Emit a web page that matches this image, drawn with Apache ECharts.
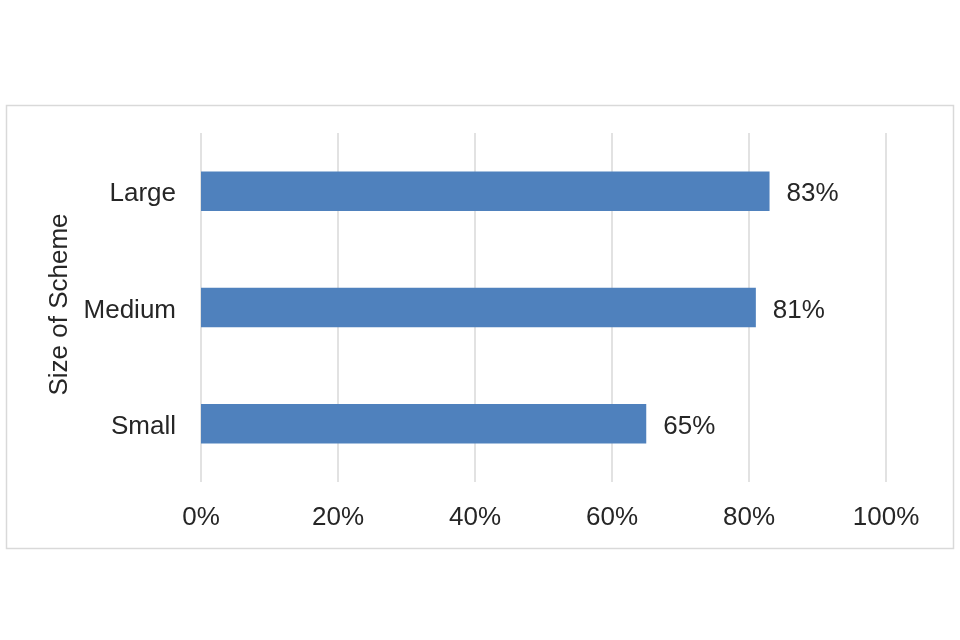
<!DOCTYPE html>
<html>
<head>
<meta charset="utf-8">
<script src="https://cdn.jsdelivr.net/npm/echarts@6/dist/echarts.min.js"></script>
<style>html,body{margin:0;padding:0;background:#fff}#c{width:960px;height:640px}</style>
</head>
<body>
<div id="c"></div>
<script>
const categories = ['Large', 'Medium', 'Small'];
const values = [83, 81, 65];
const xTicks = [0, 20, 40, 60, 80, 100];
const axisTitle = 'Size of Scheme';

const chart = echarts.init(document.getElementById('c'), null, {renderer: 'canvas'});
const font = 'Liberation Sans, Arial, sans-serif';
const txt = '#262626';
chart.setOption({
  animation: false,
  backgroundColor: '#ffffff',
  graphic: [{
    type: 'rect', left: 4, top: 103, z: -1,
    shape: {width: 947, height: 443},
    style: {fill: 'none', stroke: '#d9d9d9', lineWidth: 1.5}
  }],
  grid: {left: 201, right: 74, top: 133, bottom: 158},
  xAxis: {
    type: 'value', min: xTicks[0], max: xTicks[xTicks.length - 1], interval: 20,
    axisLine: {show: false}, axisTick: {show: false},
    splitLine: {show: true, lineStyle: {color: '#d9d9d9', width: 1.5}},
    axisLabel: {formatter: '{value}%', color: txt, fontSize: 26, fontFamily: font, margin: 23}
  },
  yAxis: {
    type: 'category', data: categories, inverse: true,
    axisLine: {show: false}, axisTick: {show: false},
    axisLabel: {color: txt, fontSize: 26, fontFamily: font, margin: 25,
      formatter: function (v) { return '{a|' + v + '}'; },
      rich: {a: {color: txt, fontSize: 26, fontFamily: font, padding: [6, 0, 0, 0]}}},
    name: axisTitle, nameLocation: 'middle', nameGap: 128, nameRotate: 90,
    nameTextStyle: {color: txt, fontSize: 26, fontFamily: font, padding: [0, 0, 0, 6]}
  },
  series: [{
    type: 'bar', data: values, barWidth: '34%',
    itemStyle: {color: '#4F81BD'},
    label: {show: true, position: 'right', distance: 17, formatter: '{c}%', offset: [0, 3],
      color: txt, fontSize: 26, fontFamily: font}
  }]
});
</script>
</body>
</html>
